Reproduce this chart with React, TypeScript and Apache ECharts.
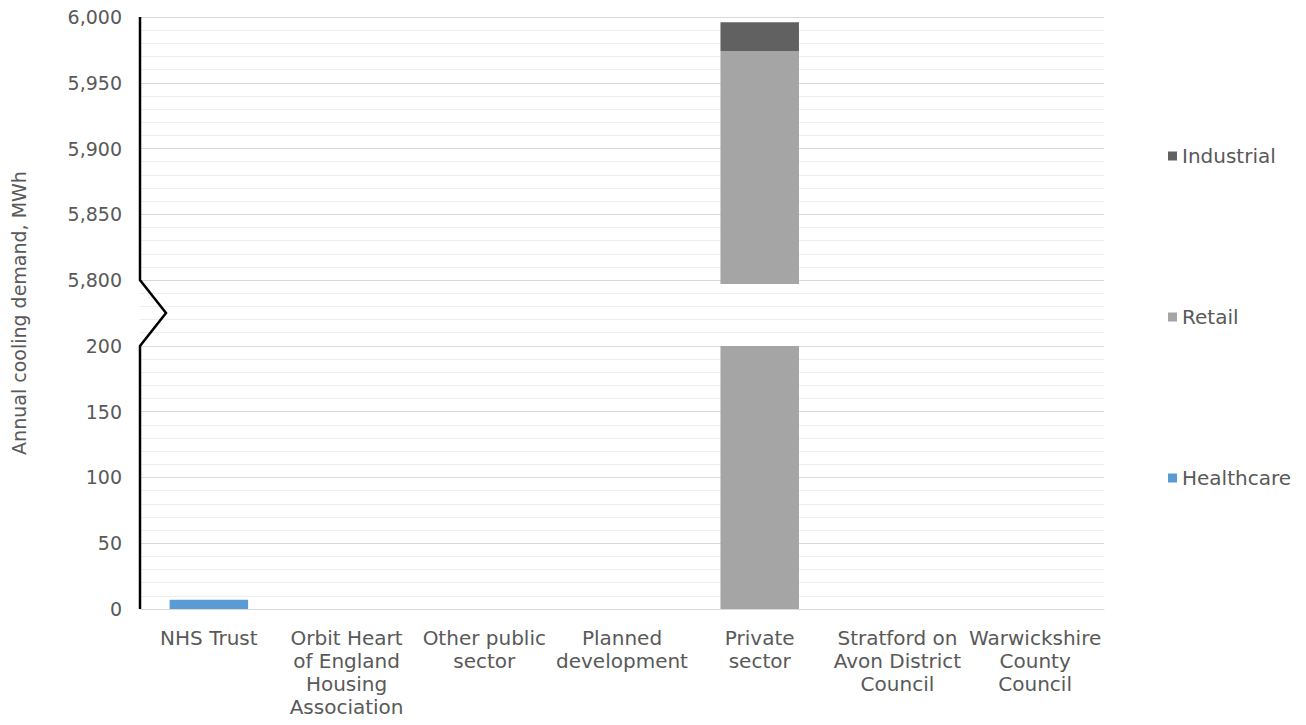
import React, { useEffect, useRef } from "react";
import * as echarts from "echarts";

// Categories and annual cooling demand (MWh) by sector type
const categories = [
  "NHS Trust",
  "Orbit Heart\nof England\nHousing\nAssociation",
  "Other public\nsector",
  "Planned\ndevelopment",
  "Private\nsector",
  "Stratford on\nAvon District\nCouncil",
  "Warwickshire\nCounty\nCouncil",
];
const healthcare = [7, null, null, null, null, null, null];
const retail = [null, null, null, null, 5974, null, null];
const industrial = [null, null, null, null, 22, null, null];

// Broken value axis: 0–200 below, 5,800–6,000 above
const lowerMax = 200;
const upperMin = 5800;
const upperMax = 6000;
const breakSpan = 50; // plotted units reserved for the break
const cutTop = 247; // where a broken bar resumes on the plotted scale
const upperStart = lowerMax + breakSpan;
const plotMax = upperStart + (upperMax - upperMin);

const mapValue = (v: number) => (v <= lowerMax ? v : upperStart + (v - upperMin));

const FONT = 'Verdana, "DejaVu Sans", sans-serif';
const TEXT = "#595959";

export default function App() {
  const ref = useRef<HTMLDivElement>(null);

  useEffect(() => {
    if (!ref.current) return;
    const chart = echarts.init(ref.current, null, { renderer: "svg" });

    const retailLow = retail.map((v) => (v == null ? null : Math.min(v, lowerMax)));
    const retailGap = retail.map((v) => (v == null || v <= lowerMax ? null : cutTop - lowerMax));
    const retailHigh = retail.map((v) => (v == null || v <= lowerMax ? null : mapValue(v) - cutTop));

    const gridLeft = 140;

    chart.setOption({
      animation: false,
      textStyle: { fontFamily: FONT },
      grid: { left: gridLeft, right: 202, top: 17, bottom: 116 },
      legend: {
        orient: "vertical",
        left: 1163,
        top: 141,
        itemWidth: 9,
        itemHeight: 9,
        itemGap: 141,
        icon: "rect",
        data: ["Industrial", "Retail", "Healthcare"],
        textStyle: { fontFamily: FONT, fontSize: 20, color: TEXT, lineHeight: 20 },
      },
      xAxis: {
        type: "category",
        data: categories,
        axisLine: { lineStyle: { color: "#d9d9d9", width: 1 } },
        axisTick: { show: false },
        axisLabel: {
          interval: 0,
          fontFamily: FONT,
          fontSize: 20,
          lineHeight: 23,
          color: TEXT,
          margin: 17,
        },
      },
      yAxis: {
        type: "value",
        min: 0,
        max: plotMax,
        interval: 10,
        name: "Annual cooling demand, MWh",
        nameLocation: "middle",
        nameGap: 112,
        nameTextStyle: { fontFamily: FONT, fontSize: 19, color: TEXT },
        axisLine: { show: false },
        axisTick: { show: false },
        axisLabel: {
          fontFamily: FONT,
          fontSize: 19,
          color: TEXT,
          margin: 18,
          formatter: (v: number) => {
            if (v <= lowerMax && v % 50 === 0) return String(v);
            if (v >= upperStart && (v - upperStart) % 50 === 0)
              return (upperMin + v - upperStart).toLocaleString("en-GB");
            return "";
          },
        },
        splitLine: {
          lineStyle: {
            color: ["#d9d9d9", "#eeeeee", "#eeeeee", "#eeeeee", "#eeeeee"],
            width: 1,
          },
        },
      },
      series: [
        {
          name: "Healthcare",
          type: "bar",
          stack: "total",
          barWidth: "57%",
          itemStyle: { color: "#5b9bd5" },
          data: healthcare,
        },
        {
          name: "Retail",
          type: "bar",
          stack: "total",
          barWidth: "57%",
          itemStyle: { color: "#a5a5a5" },
          data: retailLow,
        },
        {
          name: "",
          type: "bar",
          stack: "total",
          barWidth: "57%",
          itemStyle: { color: "rgba(0,0,0,0)" },
          data: retailGap,
        },
        {
          name: "Retail",
          type: "bar",
          stack: "total",
          barWidth: "57%",
          itemStyle: { color: "#a5a5a5" },
          data: retailHigh,
        },
        {
          name: "Industrial",
          type: "bar",
          stack: "total",
          barWidth: "57%",
          itemStyle: { color: "#616161" },
          data: industrial,
        },
      ],
    });

    // Vertical axis line with a zigzag marking the break
    const py = (v: number) => chart.convertToPixel({ yAxisIndex: 0 }, v) as number;
    const zig = 26;
    chart.setOption({
      graphic: [
        {
          type: "polyline",
          silent: true,
          z: 10,
          shape: {
            points: [
              [gridLeft, py(plotMax)],
              [gridLeft, py(upperStart)],
              [gridLeft + zig, py(lowerMax + breakSpan / 2)],
              [gridLeft, py(lowerMax)],
              [gridLeft, py(0)],
            ],
          },
          style: { stroke: "#000", lineWidth: 2.5, fill: null },
        },
      ],
    });

    return () => chart.dispose();
  }, []);

  return (
    <div
      ref={ref}
      style={{ position: "absolute", left: 0, top: 0, width: 1306, height: 725, background: "#fff" }}
    />
  );
}
